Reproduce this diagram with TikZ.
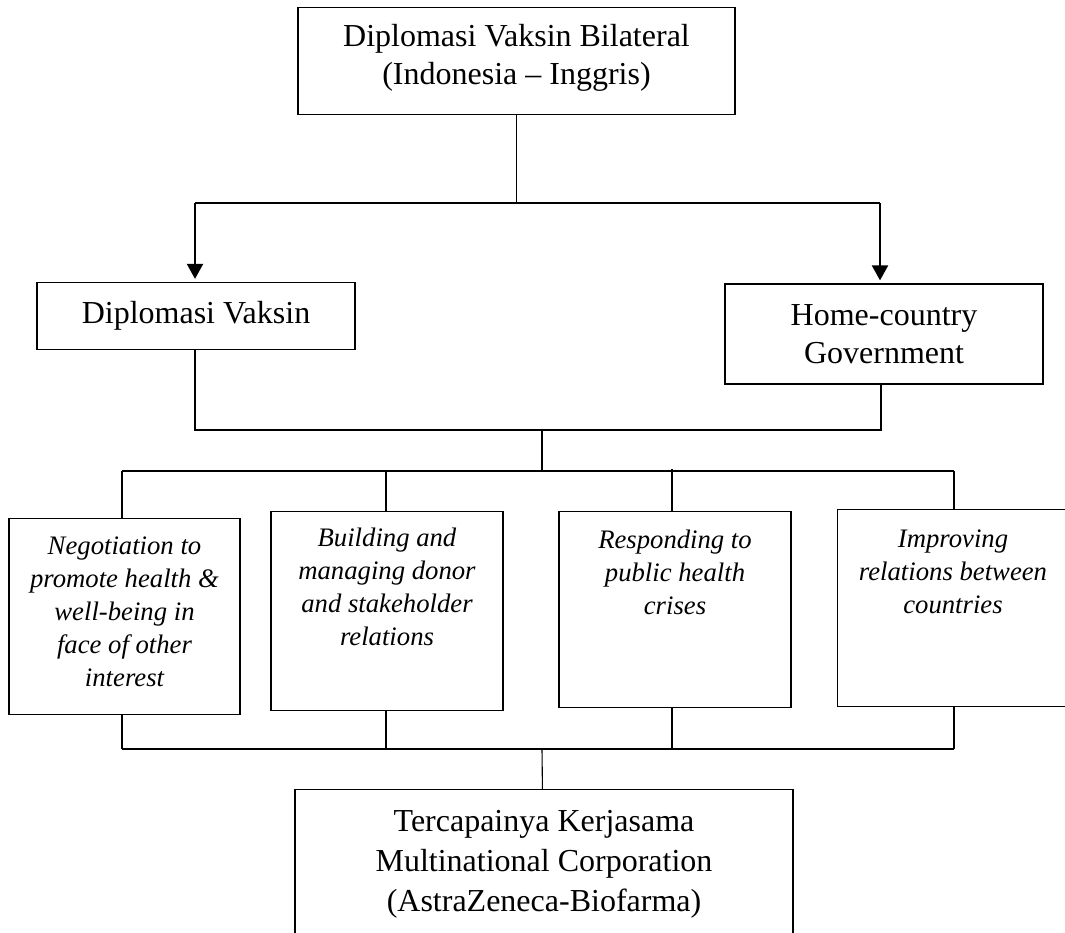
\documentclass[tikz,border=0pt]{standalone}
\usepackage{fontspec}
\setmainfont{Liberation Serif}
\usetikzlibrary{arrows.meta}

\begin{document}
\begin{tikzpicture}[x=1pt, y=-1pt,
    frame/.style={draw, line width=1.2pt, align=flush center, inner xsep=9pt, inner ysep=14pt, font=\fontsize{32}{38}\selectfont},
    item/.style={frame, anchor=north, text width=213pt, font=\fontsize{26.7}{33}\selectfont\itshape},
    link/.style={line width=1.1pt},
    arr/.style={line width=2pt, -{Triangle[length=15pt, width=16pt]}, shorten >=3pt}]
    \useasboundingbox (0, 0) rectangle (1065, 932);
    \node[frame, anchor=north, minimum width=437pt, inner ysep=17pt, text depth=13pt] (top) at (516.5, 7) {Diplomasi Vaksin Bilateral\\(Indonesia – Inggris)};
    \node[frame, minimum width=318pt, minimum height=67pt] (dv) at (196, 316) {Diplomasi Vaksin};
    \node[frame, minimum width=318pt, minimum height=100pt] (hg) at (884, 334) {Home-country\\Government};
    \node[item, minimum width=231pt, inner ysep=18pt, text depth=142pt] (neg) at (124.5, 518) {Negotiation to\\promote health \&\\well-being in\\face of other\\interest};
    \node[item, minimum width=232pt, inner ysep=16pt, text depth=148pt] (don) at (387, 511) {Building and\\managing donor\\and stakeholder\\relations};
    \node[item, minimum width=232pt, inner ysep=18pt, text depth=141pt] (cri) at (675, 511) {Responding to\\public health\\crises};
    \node[item, minimum width=231pt, inner ysep=20pt, text depth=139pt] (rel) at (953, 509) {Improving\\relations between\\countries};
    \node[frame, anchor=north, minimum width=498pt, inner ysep=21pt, text depth=150pt, font=\fontsize{32}{40}\selectfont] (goal) at (544, 789) {Tercapainya Kerjasama\\Multinational Corporation\\(AstraZeneca-Biofarma)};
    \coordinate (ja) at (516.5, 203);
    \coordinate (jl) at (195, 203);
    \coordinate (jr) at (880, 203);
    \coordinate (ka) at (542, 430);
    \coordinate (kl) at (195, 430);
    \coordinate (kr) at (881, 430);
    \coordinate (ma) at (542, 471);
    \coordinate (m1) at (122, 471);
    \coordinate (m2) at (386, 471);
    \coordinate (m3) at (672, 469);
    \coordinate (m4) at (954, 471);
    \coordinate (na) at (542, 749);
    \coordinate (n1) at (122, 749);
    \coordinate (n2) at (386, 749);
    \coordinate (n3) at (672, 749);
    \coordinate (n4) at (954, 749);
    \draw[link] (top) to (ja);
    \draw[link] (jl) to (jr);
    \draw[arr] (jl) to (jl |- dv.north);
    \draw[arr] (jr) to (jr |- hg.north);
    \draw[link] (kl |- dv.south) to (kl) to (kr) to (kr |- hg.south);
    \draw[link] (ka) to (ma);
    \draw[link] (m1) to (m4);
    \draw[link] (m1) to (m1 |- neg.north);
    \draw[link] (m2) to (m2 |- don.north);
    \draw[link] (m3) to (m3 |- cri.north);
    \draw[link] (m4) to (m4 |- rel.north);
    \draw[link] (n1 |- neg.south) to (n1);
    \draw[link] (n2 |- don.south) to (n2);
    \draw[link] (n3 |- cri.south) to (n3);
    \draw[link] (n4 |- rel.south) to (n4);
    \draw[link] (n1) to (n4);
    \draw[link] (na) to (goal);
\end{tikzpicture}
\end{document}
